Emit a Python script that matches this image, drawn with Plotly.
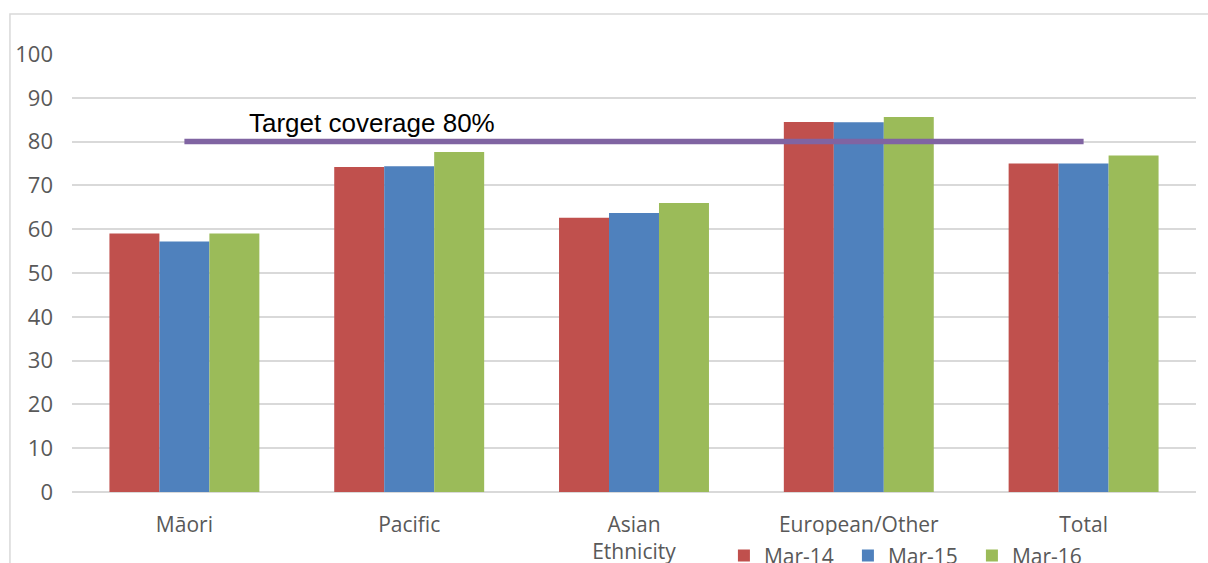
import plotly.graph_objects as go

categories = ["Māori", "Pacific", "Asian<br>Ethnicity", "European/Other", "Total"]
series_names = ["Mar-14", "Mar-15", "Mar-16"]
mar14 = [59.0, 74.2, 62.6, 84.5, 75.0]
mar15 = [57.2, 74.4, 63.7, 84.4, 75.0]
mar16 = [59.0, 77.6, 66.0, 85.6, 76.8]
target_value = 80
target_label = "Target coverage 80%"
y_ticks = [0, 10, 20, 30, 40, 50, 60, 70, 80, 90, 100]

colors = ["#C0504D", "#4F81BD", "#9BBB59"]
font_family = "Open Sans"
grey_text = "#595959"
grid = "#D9D9D9"

fig = go.Figure()
for name, vals, col in zip(series_names, [mar14, mar15, mar16], colors):
    fig.add_trace(go.Bar(x=categories, y=vals, name=name, marker=dict(color=col, line=dict(width=0))))

fig.add_trace(go.Scatter(x=[categories[0], categories[-1]], y=[target_value, target_value],
                         mode="lines", line=dict(color="#8064A2", width=5.5),
                         showlegend=False, hoverinfo="skip"))

fig.add_annotation(text=target_label, xref="paper", x=0.2665, yref="y", y=84.2,
                   xanchor="center", yanchor="middle", showarrow=False,
                   font=dict(family="Liberation Sans, Arial", size=26, color="#000000"))

fig.add_shape(type="rect", xref="paper", yref="paper", x0=-0.0552, x1=1.05, y0=-0.3, y1=1.0913,
              line=dict(color=grid, width=1.5), fillcolor="rgba(0,0,0,0)", layer="below")

fig.update_layout(
    width=1208, height=563,
    margin=dict(l=72, r=12, t=54, b=71, autoexpand=False),
    paper_bgcolor="white", plot_bgcolor="white",
    barmode="group", bargap=0.333, bargroupgap=0,
    font=dict(family=font_family, size=21, color=grey_text),
    legend=dict(orientation="h", x=0.580, xanchor="left", y=-0.146, yanchor="middle",
                font=dict(family=font_family, size=21, color=grey_text),
                entrywidth=79, entrywidthmode="pixels", itemwidth=30),
    showlegend=True,
)
fig.update_xaxes(showgrid=False, showline=False, ticks="", ticklabelstandoff=18,
                 tickfont=dict(family=font_family, size=21, color=grey_text))
fig.update_yaxes(range=[0, 100], tickvals=y_ticks, showgrid=True, gridcolor=grid, gridwidth=1.5,
                 zeroline=True, zerolinecolor=grid, zerolinewidth=1.5, showline=False, ticks="",
                 ticklabelstandoff=18, tickfont=dict(family=font_family, size=22, color=grey_text))

fig.write_html("out.html")
